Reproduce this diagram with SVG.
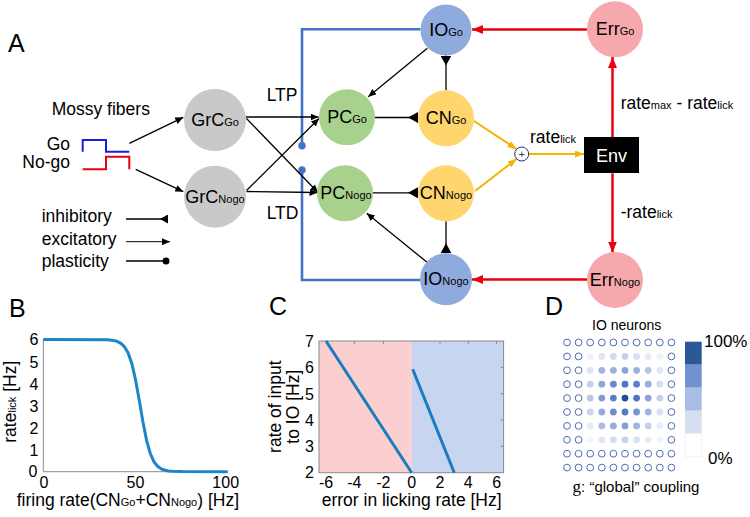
<svg xmlns="http://www.w3.org/2000/svg" width="750" height="517" viewBox="0 0 750 517">
<style>
text{font-family:"Liberation Sans",Arial,sans-serif;fill:#000}
.lbl{font-size:18px;text-anchor:middle}
.sub{font-size:11px}
.t17{font-size:17.5px}
.panel{font-size:25px}
.tick{font-size:16px}
.blk{stroke:#000;stroke-width:1.3;fill:none}
.red{stroke:#e8000b;stroke-width:2.5;fill:none}
.yel{stroke:#f4b400;stroke-width:2;fill:none}
.blu{stroke:#4472c4;stroke-width:2.6;fill:none}
.ax{stroke:#8a8a8a;stroke-width:1;fill:none}
.hol{fill:none;stroke:#4b6cb0;stroke-width:1}
</style>
<defs>
<marker id="arB" markerUnits="userSpaceOnUse" markerWidth="8" markerHeight="7" refX="8" refY="3.5" orient="auto"><path d="M0,0 L8,3.5 L0,7 z" fill="#000"/></marker>
<marker id="arR" markerUnits="userSpaceOnUse" markerWidth="11" markerHeight="9" refX="11" refY="4.5" orient="auto"><path d="M0,0 L11,4.5 L0,9 z" fill="#e8000b"/></marker>
<marker id="arY" markerUnits="userSpaceOnUse" markerWidth="9" markerHeight="7" refX="9" refY="3.5" orient="auto"><path d="M0,0 L9,3.5 L0,7 z" fill="#f4b400"/></marker>
<marker id="inh" markerUnits="userSpaceOnUse" markerWidth="10" markerHeight="11" refX="10" refY="5.5" orient="auto"><path d="M10,0 L10,11 L0,5.5 z" fill="#000"/></marker>
<marker id="inhS" markerUnits="userSpaceOnUse" markerWidth="8" markerHeight="9" refX="8" refY="4.5" orient="auto"><path d="M8,0 L8,9 L0,4.5 z" fill="#000"/></marker>
<marker id="dot" markerUnits="userSpaceOnUse" markerWidth="8" markerHeight="8" refX="4" refY="4" orient="auto"><circle cx="4" cy="4" r="3.5" fill="#000"/></marker>
<marker id="dotB" markerUnits="userSpaceOnUse" markerWidth="8" markerHeight="8" refX="4" refY="4" orient="auto"><circle cx="4" cy="4" r="3.7" fill="#4472c4"/></marker>
</defs>

<text class="panel" x="8" y="52">A</text>
<text class="panel" x="9" y="317">B</text>
<text class="panel" x="269" y="315">C</text>
<text class="panel" x="545" y="315">D</text>

<!-- connectors -->
<g id="connectors">
<path class="blu" d="M420.5,29.3 H302 V145.7" marker-end="url(#dotB)"/>
<path class="blu" d="M420,280 H302 V170" marker-end="url(#dotB)"/>
<path class="blk" d="M129.3,143.3 L183.3,117.3" marker-end="url(#arB)"/>
<path class="blk" d="M135.7,169.3 L183.3,191.7" marker-end="url(#arB)"/>
<path class="blk" d="M246,117 L318.5,117" marker-end="url(#arB)"/>
<path class="blk" d="M246.5,118.5 L318,192.5" marker-end="url(#arB)"/>
<path class="blk" d="M246.5,190.5 L319,118.5" marker-end="url(#arB)"/>
<path class="blk" d="M246.5,191.5 L317.5,192.5" marker-end="url(#arB)"/>
<path class="blk" d="M427.3,48.3 L368.3,96.7" marker-end="url(#arB)"/>
<path class="blk" d="M428.3,263.3 L366.7,213.3" marker-end="url(#arB)"/>
<path class="blk" d="M375,117.5 L418,117.5" marker-end="url(#inh)"/>
<path class="blk" d="M373,192.8 L418,192.8" marker-end="url(#inh)"/>
<path class="blk" d="M446,90.3 L446,55.5" marker-end="url(#inh)"/>
<path class="blk" d="M446,221.3 L446,253.3" marker-end="url(#inh)"/>
<path class="yel" d="M474,121 L516.5,149" marker-end="url(#arY)"/>
<path class="yel" d="M475,191 L516.5,159" marker-end="url(#arY)"/>
<path class="yel" d="M528.7,154 L584,154" marker-end="url(#arY)"/>
<path class="red" d="M587,29.5 L472,29.5" marker-end="url(#arR)"/>
<path class="red" d="M587,279.5 L472,279.5" marker-end="url(#arR)"/>
<path class="red" d="M612.5,137 L612.5,57" marker-end="url(#arR)"/>
<path class="red" d="M612.5,173.3 L612.5,252.5" marker-end="url(#arR)"/>
</g>

<!-- nodes -->
<g id="GrC_Go"><circle cx="215" cy="120" r="31" fill="#c9c9c9"/><text class="lbl" x="215" y="126">GrC<tspan class="sub">Go</tspan></text></g>
<g id="GrC_Nogo"><circle cx="215" cy="196.7" r="31" fill="#c9c9c9"/><text class="lbl" x="215" y="202.7">GrC<tspan class="sub">Nogo</tspan></text></g>
<g id="PC_Go"><circle cx="347" cy="117.3" r="28" fill="#a9d18e"/><text class="lbl" x="347" y="123.3">PC<tspan class="sub">Go</tspan></text></g>
<g id="PC_Nogo"><circle cx="345" cy="193.3" r="28" fill="#a9d18e"/><text class="lbl" x="346" y="199.3">PC<tspan class="sub">Nogo</tspan></text></g>
<g id="CN_Go"><circle cx="446" cy="118.3" r="28" fill="#ffd56e"/><text class="lbl" x="446" y="124.3">CN<tspan class="sub">Go</tspan></text></g>
<g id="CN_Nogo"><circle cx="446" cy="193.3" r="28" fill="#ffd56e"/><text class="lbl" x="446" y="199.3">CN<tspan class="sub">Nogo</tspan></text></g>
<g id="IO_Go"><circle cx="446" cy="30" r="25.5" fill="#8faadc"/><text class="lbl" x="446" y="36">IO<tspan class="sub">Go</tspan></text></g>
<g id="IO_Nogo"><circle cx="446" cy="279.3" r="26" fill="#8faadc"/><text class="lbl" x="446" y="285.3">IO<tspan class="sub">Nogo</tspan></text></g>
<g id="Err_Go"><circle cx="615" cy="29.3" r="28" fill="#f7a8ac"/><text class="lbl" x="615" y="35.3">Err<tspan class="sub">Go</tspan></text></g>
<g id="Err_Nogo"><circle cx="615" cy="280" r="28" fill="#f7a8ac"/><text class="lbl" x="615" y="286">Err<tspan class="sub">Nogo</tspan></text></g>
<g id="Env"><rect x="584" y="137" width="55" height="36" fill="#000"/><text class="lbl" x="611.5" y="161.5" style="fill:#fff">Env</text></g>
<g id="Sum"><circle cx="521.7" cy="154" r="7" fill="#fff" stroke="#1f3864" stroke-width="1"/><text x="521.7" y="158" style="font-size:11px;text-anchor:middle;fill:#1f3864">+</text></g>

<!-- labels -->
<text class="t17" x="530" y="142.7">rate<tspan class="sub">lick</tspan></text>
<text class="t17" x="620.7" y="109">rate<tspan class="sub">max</tspan> - rate<tspan class="sub">lick</tspan></text>
<text class="t17" x="620.7" y="218">-rate<tspan class="sub">lick</tspan></text>
<text class="t17" x="266.7" y="100.7">LTP</text>
<text class="t17" x="266.7" y="219.3">LTD</text>

<g id="mossy">
<text class="t17" x="51.7" y="115">Mossy fibers</text>
<text class="t17" x="70" y="149.5" text-anchor="end">Go</text>
<text class="t17" x="70" y="167.5" text-anchor="end">No-go</text>
<path d="M82.7,151.7 V140 H106 V151.7 H129.3" stroke="#1a1ae6" stroke-width="2" fill="none"/>
<path d="M82.7,169.3 H106 V156.7 H129.3 V169.3" stroke="#e8000b" stroke-width="2" fill="none"/>
</g>

<g id="legend">
<text class="t17" x="41.7" y="222">inhibitory</text>
<text class="t17" x="41.7" y="245">excitatory</text>
<text class="t17" x="41.7" y="266.6">plasticity</text>
<path class="blk" d="M126,219 L168,219" marker-end="url(#inhS)"/>
<path d="M126,241.7 L170,241.7" stroke="#000" stroke-width="1" marker-end="url(#arB)"/>
<path class="blk" d="M126,261 L166,261" marker-end="url(#dot)"/>
</g>

<!-- Panel B -->
<g id="panelB">
<path class="ax" d="M43.3,339.4 V471.7 H227.7"/>
<g text-anchor="end">
<text x="37.5" y="476.5" class="tick">0</text>
<text x="38.5" y="455.6" class="tick">1</text>
<text x="38.5" y="433.6" class="tick">2</text>
<text x="38.5" y="411.5" class="tick">3</text>
<text x="38.5" y="389.5" class="tick">4</text>
<text x="38.5" y="367.5" class="tick">5</text>
<text x="38.5" y="345.4" class="tick">6</text>
</g>
<g text-anchor="middle">
<text x="44" y="487.5" class="tick">0</text>
<text x="135.5" y="487.5" class="tick">50</text>
<text x="225.7" y="487.5" class="tick">100</text>
</g>
<path d="M43.3,339.4 L107.8,339.8 L113.4,340.4 L117.1,341.4 L120.8,343.3 L124.4,346.7 L128.1,353 L131.8,363.5 L135.5,379.5 L139.2,400.1 L142.9,421.8 L146.6,440.3 L150.3,453.5 L153.9,461.7 L157.6,466.3 L161.3,468.9 L165,470.2 L168.7,470.9 L172.4,471.3 L181.6,471.6 L227.7,471.7" stroke="#1a86c8" stroke-width="3" fill="none"/>
<text x="16.5" y="401.7" transform="rotate(-90 16.5 401.7)" text-anchor="middle" class="t17">rate<tspan class="sub">lick</tspan> [Hz]</text>
<text x="16.7" y="506" class="t17">firing rate(CN<tspan class="sub">Go</tspan>+CN<tspan class="sub">Nogo</tspan>) [Hz]</text>
</g>

<!-- Panel C -->
<g id="panelC">
<rect x="319" y="341" width="92.7" height="131.7" fill="#fbcfcf"/>
<rect x="411.7" y="341" width="91.9" height="131.7" fill="#c8d5f0"/>
<rect class="ax" x="319" y="341" width="184.6" height="131.7"/>
<path class="ax" d="M354.3,341 v3 M383.4,341 v3 M440,341 v3 M468.3,341 v3 M496.6,341 v3 M503.6,367.3 h-3 M503.6,393.7 h-3 M503.6,420 h-3 M503.6,446.3 h-3"/>
<path d="M326,341 L411.7,472.7" stroke="#1a7cbf" stroke-width="3"/>
<path d="M412.7,369.3 L454.3,472.7" stroke="#1a7cbf" stroke-width="3"/>
<g text-anchor="end">
<text x="314" y="347" class="tick">7</text>
<text x="314" y="373.3" class="tick">6</text>
<text x="314" y="399.7" class="tick">5</text>
<text x="314" y="426" class="tick">4</text>
<text x="314" y="452.3" class="tick">3</text>
<text x="314" y="478.2" class="tick">2</text>
</g>
<g text-anchor="middle">
<text x="326" y="487.5" class="tick">-6</text>
<text x="354.3" y="487.5" class="tick">-4</text>
<text x="383.4" y="487.5" class="tick">-2</text>
<text x="411.7" y="487.5" class="tick">0</text>
<text x="440" y="487.5" class="tick">2</text>
<text x="468.3" y="487.5" class="tick">4</text>
<text x="496.6" y="487.5" class="tick">6</text>
</g>
<text x="281" y="406.7" transform="rotate(-90 281 406.7)" text-anchor="middle" class="t17">rate of input</text>
<text x="299.5" y="406.7" transform="rotate(-90 299.5 406.7)" text-anchor="middle" class="t17">to IO [Hz]</text>
<text x="321.7" y="506" class="t17">error in licking rate [Hz]</text>
</g>

<!-- Panel D -->
<g id="panelD">
<text x="626.7" y="330" text-anchor="middle" style="font-size:14px">IO neurons</text>
<g class="hol">
<circle cx="567" cy="342.5" r="3.4"/><circle cx="578.6" cy="342.5" r="3.4"/><circle cx="590.2" cy="342.5" r="3.4"/><circle cx="601.8" cy="342.5" r="3.4"/><circle cx="613.4" cy="342.5" r="3.4"/><circle cx="625" cy="342.5" r="3.4"/><circle cx="636.6" cy="342.5" r="3.4"/><circle cx="648.2" cy="342.5" r="3.4"/><circle cx="659.8" cy="342.5" r="3.4"/><circle cx="671.4" cy="342.5" r="3.4"/>
<circle cx="567" cy="453.7" r="3.4"/><circle cx="578.6" cy="453.7" r="3.4"/><circle cx="590.2" cy="453.7" r="3.4"/><circle cx="601.8" cy="453.7" r="3.4"/><circle cx="613.4" cy="453.7" r="3.4"/><circle cx="625" cy="453.7" r="3.4"/><circle cx="636.6" cy="453.7" r="3.4"/><circle cx="648.2" cy="453.7" r="3.4"/><circle cx="659.8" cy="453.7" r="3.4"/><circle cx="671.4" cy="453.7" r="3.4"/>
<circle cx="567" cy="467.6" r="3.4"/><circle cx="578.6" cy="467.6" r="3.4"/><circle cx="590.2" cy="467.6" r="3.4"/><circle cx="601.8" cy="467.6" r="3.4"/><circle cx="613.4" cy="467.6" r="3.4"/><circle cx="625" cy="467.6" r="3.4"/><circle cx="636.6" cy="467.6" r="3.4"/><circle cx="648.2" cy="467.6" r="3.4"/><circle cx="659.8" cy="467.6" r="3.4"/><circle cx="671.4" cy="467.6" r="3.4"/>
<circle cx="567" cy="356.4" r="3.4"/><circle cx="578.6" cy="356.4" r="3.4"/><circle cx="671.4" cy="356.4" r="3.4"/>
<circle cx="567" cy="370.3" r="3.4"/><circle cx="578.6" cy="370.3" r="3.4"/><circle cx="671.4" cy="370.3" r="3.4"/>
<circle cx="567" cy="384.2" r="3.4"/><circle cx="578.6" cy="384.2" r="3.4"/><circle cx="671.4" cy="384.2" r="3.4"/>
<circle cx="567" cy="398.1" r="3.4"/><circle cx="578.6" cy="398.1" r="3.4"/><circle cx="671.4" cy="398.1" r="3.4"/>
<circle cx="567" cy="412" r="3.4"/><circle cx="578.6" cy="412" r="3.4"/><circle cx="671.4" cy="412" r="3.4"/>
<circle cx="567" cy="425.9" r="3.4"/><circle cx="578.6" cy="425.9" r="3.4"/><circle cx="671.4" cy="425.9" r="3.4"/>
<circle cx="567" cy="439.8" r="3.4"/><circle cx="578.6" cy="439.8" r="3.4"/><circle cx="671.4" cy="439.8" r="3.4"/>
</g>
<g>
<circle cx="590.2" cy="356.4" r="3.4" fill="#eef2fa"/><circle cx="601.8" cy="356.4" r="3.4" fill="#dfe6f4"/><circle cx="613.4" cy="356.4" r="3.4" fill="#d0dbf0"/><circle cx="625" cy="356.4" r="3.4" fill="#c3d1ec"/><circle cx="636.6" cy="356.4" r="3.4" fill="#d6dff2"/><circle cx="648.2" cy="356.4" r="3.4" fill="#e5ebf6"/><circle cx="659.8" cy="356.4" r="3.4" fill="#f0f3fa"/>
<circle cx="590.2" cy="370.3" r="3.4" fill="#dde5f4"/><circle cx="601.8" cy="370.3" r="3.4" fill="#9fb4e0"/><circle cx="613.4" cy="370.3" r="3.4" fill="#9ab0de"/><circle cx="625" cy="370.3" r="3.4" fill="#8aa4da"/><circle cx="636.6" cy="370.3" r="3.4" fill="#9ab0de"/><circle cx="648.2" cy="370.3" r="3.4" fill="#b4c5e6"/><circle cx="659.8" cy="370.3" r="3.4" fill="#e0e7f4"/>
<circle cx="590.2" cy="384.2" r="3.4" fill="#c5d2ec"/><circle cx="601.8" cy="384.2" r="3.4" fill="#8ea7db"/><circle cx="613.4" cy="384.2" r="3.4" fill="#6a8bd0"/><circle cx="625" cy="384.2" r="3.4" fill="#4f76c4"/><circle cx="636.6" cy="384.2" r="3.4" fill="#5e81c9"/><circle cx="648.2" cy="384.2" r="3.4" fill="#96addd"/><circle cx="659.8" cy="384.2" r="3.4" fill="#d3ddf0"/>
<circle cx="590.2" cy="398.1" r="3.4" fill="#b7c7e8"/><circle cx="601.8" cy="398.1" r="3.4" fill="#7f9bd6"/><circle cx="613.4" cy="398.1" r="3.4" fill="#5a7ec8"/><circle cx="625" cy="398.1" r="3.4" fill="#244d96"/><circle cx="636.6" cy="398.1" r="3.4" fill="#4d74c3"/><circle cx="648.2" cy="398.1" r="3.4" fill="#8aa3d9"/><circle cx="659.8" cy="398.1" r="3.4" fill="#c3d1ec"/>
<circle cx="590.2" cy="412" r="3.4" fill="#c9d5ee"/><circle cx="601.8" cy="412" r="3.4" fill="#94abdd"/><circle cx="613.4" cy="412" r="3.4" fill="#6c8dd0"/><circle cx="625" cy="412" r="3.4" fill="#5379c5"/><circle cx="636.6" cy="412" r="3.4" fill="#7593d3"/><circle cx="648.2" cy="412" r="3.4" fill="#a0b5e0"/><circle cx="659.8" cy="412" r="3.4" fill="#d8e1f2"/>
<circle cx="590.2" cy="425.9" r="3.4" fill="#e3e9f5"/><circle cx="601.8" cy="425.9" r="3.4" fill="#a9bce3"/><circle cx="613.4" cy="425.9" r="3.4" fill="#95acdc"/><circle cx="625" cy="425.9" r="3.4" fill="#859fd8"/><circle cx="636.6" cy="425.9" r="3.4" fill="#9fb4df"/><circle cx="648.2" cy="425.9" r="3.4" fill="#c2d0eb"/><circle cx="659.8" cy="425.9" r="3.4" fill="#e8edf7"/>
<circle cx="590.2" cy="439.8" r="3.4" fill="#f3f5fb"/><circle cx="601.8" cy="439.8" r="3.4" fill="#e0e7f4"/><circle cx="613.4" cy="439.8" r="3.4" fill="#d3dcf0"/><circle cx="625" cy="439.8" r="3.4" fill="#c6d3ed"/><circle cx="636.6" cy="439.8" r="3.4" fill="#d9e1f2"/><circle cx="648.2" cy="439.8" r="3.4" fill="#e8edf7"/><circle cx="659.8" cy="439.8" r="3.4" fill="#f2f5fa"/>
</g>
<rect x="685" y="341.7" width="16.7" height="23" fill="#2c5898"/>
<rect x="685" y="364.7" width="16.7" height="23" fill="#7192cf"/>
<rect x="685" y="387.7" width="16.7" height="23" fill="#a8bde4"/>
<rect x="685" y="410.7" width="16.7" height="23" fill="#d6dff2"/>
<rect x="685" y="433.7" width="16.7" height="23" fill="#ffffff" stroke="#eef1f7" stroke-width="0.8"/>
<text x="704" y="347" style="font-size:17px">100%</text>
<text x="708" y="463.5" style="font-size:17px">0%</text>
<text x="636" y="491.7" text-anchor="middle" style="font-size:15px"><tspan style="font-family:'Liberation Serif',serif;font-size:17px">g</tspan>: “global” coupling</text>
</g>
</svg>
